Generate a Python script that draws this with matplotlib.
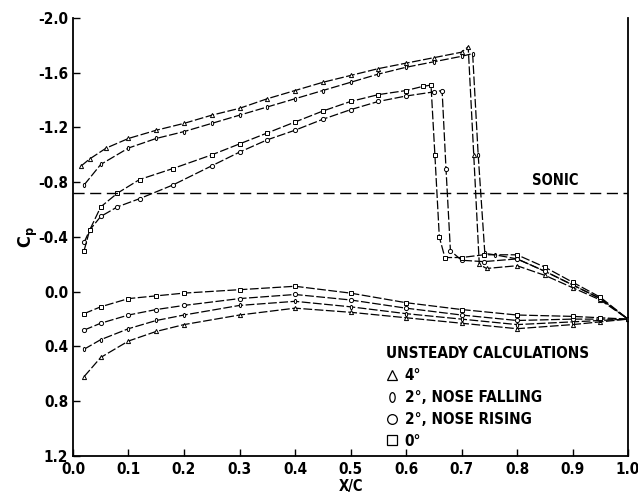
import matplotlib
matplotlib.use("Agg")
import matplotlib.pyplot as plt
from matplotlib.path import Path
from matplotlib.transforms import Affine2D

plt.rcParams['font.family'] = ['DejaVu Sans']
plt.rcParams['font.stretch'] = 'condensed'
plt.rcParams['font.weight'] = 'bold'

# Superficie superior (Cp negativo = succao)
x_up_4 = [0.015, 0.03, 0.06, 0.1, 0.15, 0.2, 0.25, 0.3, 0.35, 0.4, 0.45, 0.5, 0.55,
          0.6, 0.65, 0.7, 0.712, 0.722, 0.732, 0.745, 0.8, 0.85, 0.9, 0.95, 1.0]
cp_up_4 = [-0.92, -0.97, -1.05, -1.12, -1.18, -1.23, -1.29, -1.34, -1.41, -1.47, -1.53, -1.58, -1.63,
           -1.67, -1.71, -1.75, -1.79, -1.0, -0.2, -0.17, -0.19, -0.12, -0.03, 0.06, 0.2]

x_up_2f = [0.02, 0.05, 0.1, 0.15, 0.2, 0.25, 0.3, 0.35, 0.4, 0.45, 0.5, 0.55,
           0.6, 0.65, 0.7, 0.72, 0.73, 0.742, 0.76, 0.8, 0.85, 0.9, 0.95, 1.0]
cp_up_2f = [-0.78, -0.93, -1.05, -1.12, -1.17, -1.23, -1.29, -1.35, -1.41, -1.47, -1.53, -1.59,
            -1.64, -1.68, -1.72, -1.74, -1.0, -0.28, -0.27, -0.24, -0.15, -0.05, 0.05, 0.2]

x_up_0 = [0.02, 0.03, 0.05, 0.08, 0.12, 0.18, 0.25, 0.3, 0.35, 0.4, 0.45, 0.5, 0.55,
          0.6, 0.63, 0.645, 0.652, 0.66, 0.67, 0.7, 0.74, 0.8, 0.85, 0.9, 0.95, 1.0]
cp_up_0 = [-0.30, -0.45, -0.62, -0.72, -0.82, -0.90, -1.0, -1.08, -1.16, -1.24, -1.32, -1.39, -1.44,
           -1.47, -1.50, -1.51, -1.0, -0.4, -0.25, -0.25, -0.27, -0.27, -0.18, -0.07, 0.04, 0.2]

x_up_2r = [0.02, 0.03, 0.05, 0.08, 0.12, 0.18, 0.25, 0.3, 0.35, 0.4, 0.45, 0.5, 0.55,
           0.6, 0.65, 0.665, 0.672, 0.68, 0.7, 0.74, 0.8, 0.85, 0.9, 0.95, 1.0]
cp_up_2r = [-0.36, -0.45, -0.55, -0.62, -0.68, -0.78, -0.92, -1.02, -1.11, -1.18, -1.26, -1.33, -1.39,
            -1.43, -1.46, -1.47, -0.9, -0.3, -0.23, -0.22, -0.24, -0.15, -0.05, 0.05, 0.2]

# Superficie inferior
x_low = [0.02, 0.05, 0.1, 0.15, 0.2, 0.3, 0.4, 0.5, 0.6, 0.7, 0.8, 0.9, 0.95, 1.0]
cp_low_0 = [0.16, 0.11, 0.05, 0.03, 0.01, -0.015, -0.04, 0.01, 0.08, 0.13, 0.17, 0.18, 0.19, 0.2]
cp_low_2r = [0.28, 0.23, 0.17, 0.13, 0.10, 0.05, 0.02, 0.06, 0.12, 0.17, 0.21, 0.20, 0.2, 0.2]
cp_low_2f = [0.42, 0.35, 0.27, 0.21, 0.17, 0.10, 0.07, 0.11, 0.16, 0.20, 0.24, 0.22, 0.21, 0.2]
cp_low_4 = [0.62, 0.48, 0.36, 0.29, 0.24, 0.17, 0.12, 0.15, 0.19, 0.23, 0.27, 0.24, 0.22, 0.2]

cp_sonic = -0.72

x_ticks = [0.0, 0.1, 0.2, 0.3, 0.4, 0.5, 0.6, 0.7, 0.8, 0.9, 1.0]
y_ticks = [-2.0, -1.6, -1.2, -0.8, -0.4, 0.0, 0.4, 0.8, 1.2]

labels = ['4°', '2°, NOSE FALLING', '2°, NOSE RISING', '0°']

# marcador "0" estreito (elipse)
ellipse = Path.unit_circle().transformed(Affine2D().scale(0.55, 1.0))

fig = plt.figure(figsize=(6.38, 4.97), dpi=100)
ax = fig.add_axes([0.1144, 0.0825, 0.87, 0.8813])

estilo = dict(color='black', lw=0.9, linestyle=(0, (7, 2)), markersize=3.0,
              markerfacecolor='white', markeredgecolor='black', markeredgewidth=0.7)

ax.plot(x_up_4, cp_up_4, marker='^', **estilo)
ax.plot(x_low, cp_low_4, marker='^', **estilo)
ax.plot(x_up_2f, cp_up_2f, marker=ellipse, **estilo)
ax.plot(x_low, cp_low_2f, marker=ellipse, **estilo)
ax.plot(x_up_2r, cp_up_2r, marker='o', **estilo)
ax.plot(x_low, cp_low_2r, marker='o', **estilo)
ax.plot(x_up_0, cp_up_0, marker='s', **estilo)
ax.plot(x_low, cp_low_0, marker='s', **estilo)

ax.axhline(cp_sonic, color='black', lw=1.0, linestyle=(0, (8, 4)))
ax.text(0.868, cp_sonic - 0.04, 'SONIC', fontsize=10.5, fontweight='bold',
        ha='center', va='bottom')

ax.set_xlim(0.0, 1.0)
ax.set_ylim(1.2, -2.0)
ax.set_xticks(x_ticks)
ax.set_xticklabels([f'{v:.1f}' for v in x_ticks])
ax.set_yticks(y_ticks)
ax.set_yticklabels([f'{v:.1f}' for v in y_ticks])
ax.tick_params(direction='in', length=5, width=1, labelsize=11)
ax.tick_params(axis='x', pad=4)
ax.spines['top'].set_visible(False)
for s in ['left', 'bottom', 'right']:
    ax.spines[s].set_linewidth(1.3)

ax.set_xlabel('X/C', fontsize=10.5, fontweight='bold', labelpad=2)
ax.set_ylabel(r'$\mathbf{C_p}$', fontsize=13)
ax.yaxis.set_label_coords(-0.06, 0.5)

handles = []
for m in ['^', ellipse, 'o', 's']:
    hh, = ax.plot([], [], linestyle='none', marker=m, markersize=7,
                  markerfacecolor='white', markeredgecolor='black', markeredgewidth=0.9)
    handles.append(hh)
leg = ax.legend(handles, labels, title='UNSTEADY CALCULATIONS', loc='lower right',
                bbox_to_anchor=(0.955, -0.015), frameon=False, handlelength=0.8,
                handletextpad=0.4, labelspacing=0.45, fontsize=11,
                title_fontproperties={'weight': 'bold', 'size': 11}, alignment='left')

fig.savefig('out.png', dpi=100)
